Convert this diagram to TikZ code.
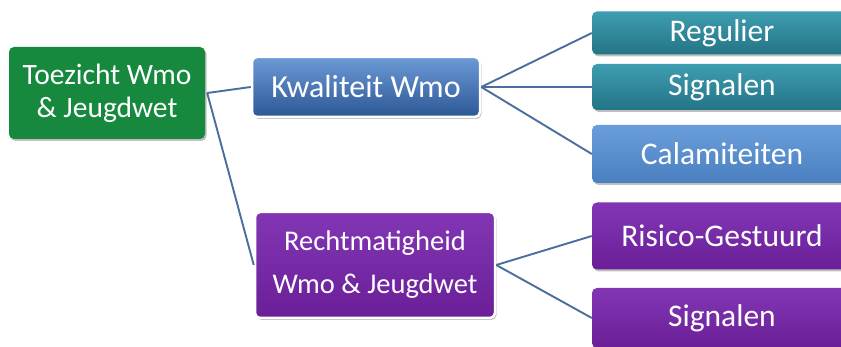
\documentclass[tikz,border=0pt]{standalone}
\usepackage{fontspec}
\setmainfont{Carlito}
\usetikzlibrary{shadows}
\definecolor{linkblue}{HTML}{4A6E9E}
\definecolor{rootgreen}{HTML}{16893E}
\definecolor{bluetop}{HTML}{6C9AD6}
\definecolor{bluebot}{HTML}{2C5896}
\definecolor{tealtop}{HTML}{3E9DB0}
\definecolor{tealbot}{HTML}{237486}
\definecolor{caltop}{HTML}{6A9EDB}
\definecolor{calbot}{HTML}{4A7FC0}
\definecolor{purptop}{HTML}{8236B4}
\definecolor{purpbot}{HTML}{6A1F98}
\tikzset{
  box/.style={rounded corners=5pt, text=white, align=center, inner sep=0pt,
    drop shadow={shadow xshift=1.5pt, shadow yshift=-2pt, opacity=0.25, fill=black}},
  midbox/.style={box, draw=white, line width=2.5pt},
  leafbox/.style={box, minimum width=260pt, font=\fontsize{31.5}{36}\selectfont},
  link/.style={draw=linkblue, line width=1.9pt}
}
\begin{document}
\begin{tikzpicture}[x=1pt, y=-1pt]
  \fill[white] (0,0) rectangle (841,347);
  \useasboundingbox (0,0) rectangle (841,347);
  \clip (0,0) rectangle (841,347);

  % root
  \node[box, fill=rootgreen, minimum width=196pt, minimum height=92pt,
        font=\fontsize{29.5}{33}\selectfont] (root) at (107,93)
        {Toezicht Wmo\\\& Jeugdwet};

  % second level
  \node[midbox, top color=bluetop, bottom color=bluebot, minimum width=228pt,
        minimum height=60pt, font=\fontsize{32}{36}\selectfont] (kwal) at (366,87)
        {Kwaliteit Wmo};
  \node[midbox, top color=purptop, bottom color=purpbot,
        minimum width=240pt, minimum height=106pt,
        font=\fontsize{28.5}{43}\selectfont] (recht) at (375,265)
        {Rechtmatigheid\\Wmo \& Jeugdwet};

  % leaves
  \node[leafbox, top color=tealtop, bottom color=tealbot, minimum height=43pt] (reg) at (722,33) {Regulier};
  \node[leafbox, top color=tealtop, bottom color=tealbot, minimum height=46pt] (sig1) at (722,87) {Signalen};
  \node[leafbox, top color=caltop, bottom color=calbot, minimum height=58pt] (cal) at (722,154) {Calamiteiten};
  \node[leafbox, top color=purptop, bottom color=purpbot, minimum height=67pt] (ris) at (722,236) {Risico-Gestuurd};
  \node[leafbox, top color=purptop, bottom color=purpbot, minimum height=60pt] (sig2) at (722,318) {Signalen};

  % connectors
  \coordinate (rootout) at ([xshift=2pt]root.east);
  \path[link] (rootout) -- (kwal.west);
  \path[link] (rootout) -- (recht.west);
  \path[link] (kwal.east) -- (reg.west);
  \path[link] (kwal.east) -- (sig1.west);
  \path[link] (kwal.east) -- (cal.west);
  \path[link] (recht.east) -- (ris.west);
  \path[link] (recht.east) -- (sig2.west);
\end{tikzpicture}
\end{document}
